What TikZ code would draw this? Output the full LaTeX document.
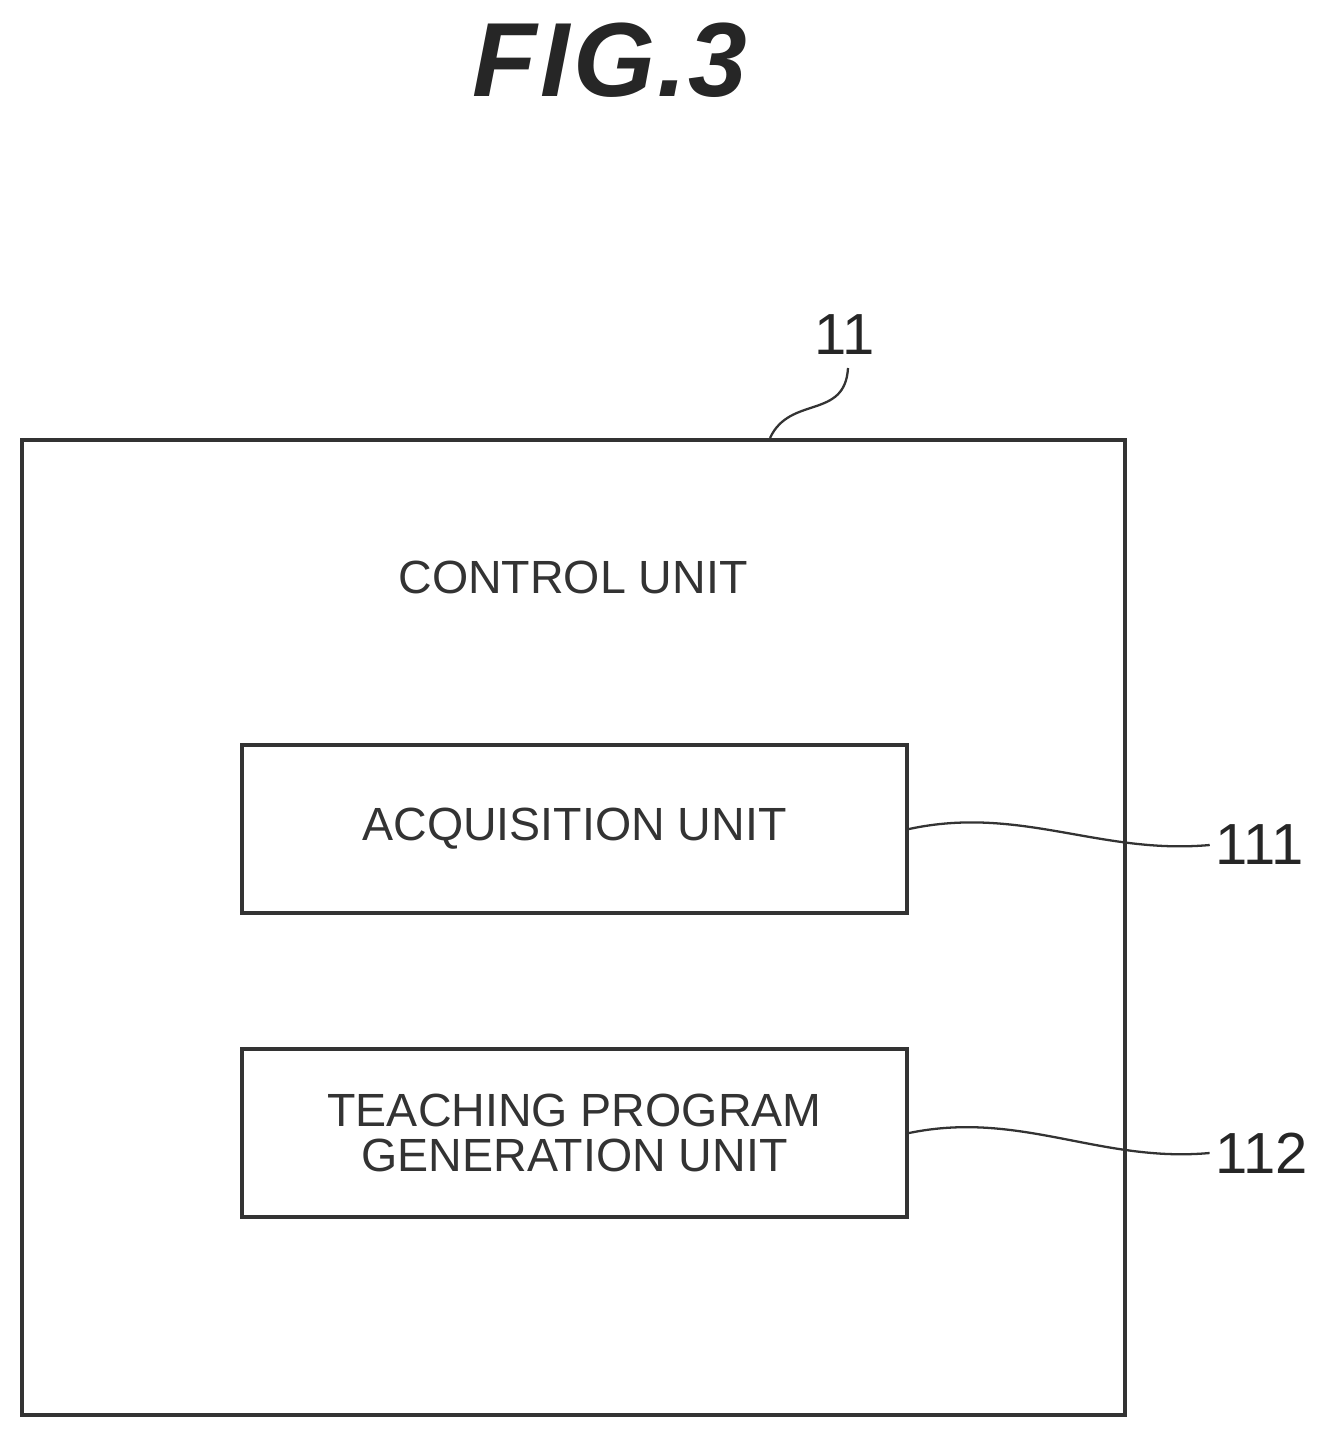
\documentclass[tikz,border=0pt]{standalone}
\usepackage{fontspec}
\setmainfont{Liberation Sans}
\usetikzlibrary{positioning}
\tikzset{
  unit/.style={draw=black!80, line width=2.4pt, minimum width=13.3cm, minimum height=3.36cm, align=center, font=\fontsize{26.5}{26}\selectfont, text=black!80},
  refnum/.style={font=\fontsize{33}{38}\selectfont, text=black!85},
  leader/.style={black!80, line width=1.3pt}
}
\begin{document}
\begin{tikzpicture}[x=0.02cm,y=-0.02cm]
            \useasboundingbox (0,0) rectangle (1326,1439);
            \node[font=\fontsize{60}{64}\selectfont\bfseries\itshape, text=black!85] (title) at (610,60) {F\kern2pt I\kern2pt G\kern1pt.\kern1pt3};

            % control unit frame
            \node[draw=black!80, line width=2.4pt, minimum width=22.06cm, minimum height=19.5cm] (ctrl) at (573.5,927.5) {};
            \node[font=\fontsize{26.5}{30}\selectfont, text=black!80] (ctrllbl) at (573,577) {CONTROL UNIT};
            \node[refnum] (n11) at (845,335) {11};
            \draw[leader] (770,438) .. controls (790,395) and (845,420) .. (848,368);

            % units
            \node[unit] (acq) at (574.5,829) {ACQUISITION UNIT};
            \node[unit] (gen) at (574.5,1133) {TEACHING PROGRAM\\GENERATION UNIT};

            \node[refnum] (n111) at (1260,845) {111};
            \node[refnum] (n112) at (1262,1153) {112};
            \draw[leader] (acq.east) .. controls (1020,805) and (1100,855) .. (n111.west);
            \draw[leader] (gen.east) .. controls (1020,1110) and (1100,1163) .. (n112.west);
\end{tikzpicture}
\end{document}
